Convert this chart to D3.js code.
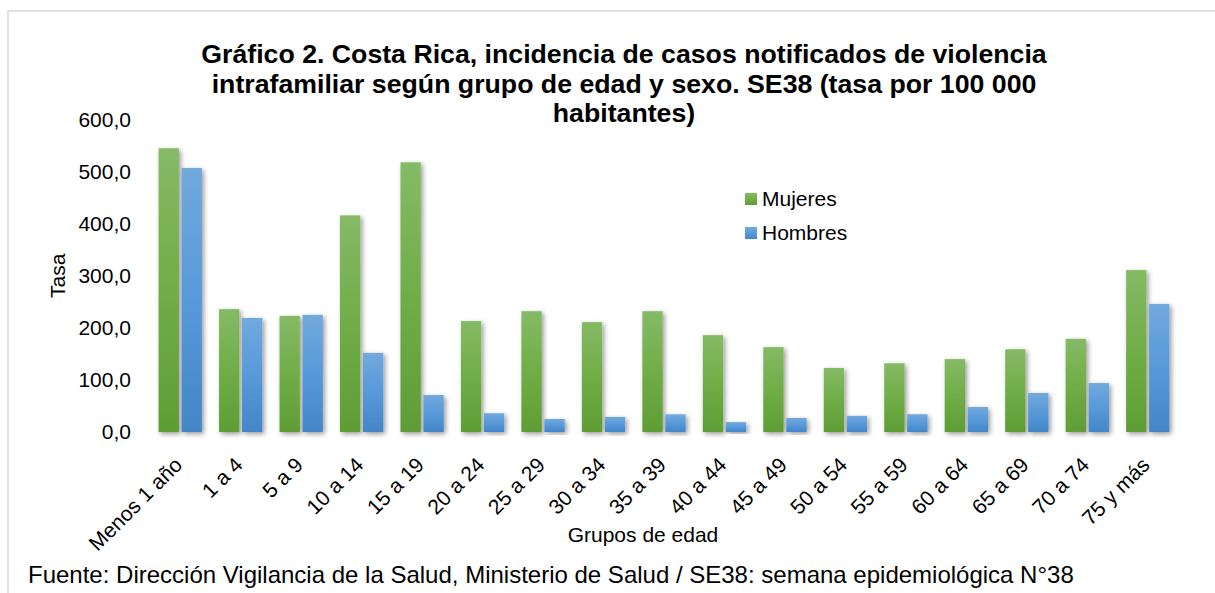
<!DOCTYPE html>
<html>
<head>
<meta charset="utf-8">
<script src="https://cdn.jsdelivr.net/npm/d3@7"></script>
<style>
  html, body { margin: 0; padding: 0; background: #fff; }
  svg { display: block; font-family: "Liberation Sans", Arial, sans-serif; }
</style>
</head>
<body>
<svg id="chart" width="1215" height="593"></svg>
<script>
const categories = ["Menos 1 año","1 a 4","5 a 9","10 a 14","15 a 19","20 a 24","25 a 29","30 a 34","35 a 39","40 a 44","45 a 49","50 a 54","55 a 59","60 a 64","65 a 69","70 a 74","75 y más"];
const mujeres = [545, 236, 223, 416, 518, 213, 232, 211, 232, 186, 163, 123, 132, 140, 159, 179, 311];
const hombres = [507, 219, 225, 152, 71, 36, 25, 29, 34, 19, 27, 31, 34, 48, 75, 94, 246];
const seriesNames = ["Mujeres", "Hombres"];
const yTicks = [0, 100, 200, 300, 400, 500, 600];
const titleLines = ["Gráfico 2. Costa Rica, incidencia de casos notificados de violencia", "intrafamiliar según grupo de edad y sexo. SE38 (tasa por 100 000", "habitantes)"];
const yLabel = "Tasa";
const xLabel = "Grupos de edad";
const footer = "Fuente: Dirección Vigilancia de la Salud, Ministerio de Salud / SE38: semana epidemiológica N°38";

const svg = d3.select("#chart");
const plot = { left: 150, right: 1178, top: 119.6, bottom: 432 };

const loc = d3.formatLocale({ decimal: ",", thousands: " ", grouping: [3], currency: ["", ""] });
const fmt = loc.format(".1f");

// defs: gradients and shadow
const defs = svg.append("defs");
const grads = {
  Mujeres: ["#86ba66", "#70ad47", "#5f9d35"],
  Hombres: ["#72a9dd", "#5899da", "#4386c7"]
};
Object.entries(grads).forEach(([k, c]) => {
  const g = defs.append("linearGradient").attr("id", "g-" + k).attr("x1", 0).attr("y1", 0).attr("x2", 0).attr("y2", 1);
  g.append("stop").attr("offset", "0%").attr("stop-color", c[0]);
  g.append("stop").attr("offset", "50%").attr("stop-color", c[1]);
  g.append("stop").attr("offset", "100%").attr("stop-color", c[2]);
});
const f = defs.append("filter").attr("id", "shadow").attr("x", "-30%").attr("y", "-10%").attr("width", "160%").attr("height", "130%");
f.append("feDropShadow").attr("dx", 2).attr("dy", 2).attr("stdDeviation", 2.4).attr("flood-color", "#000").attr("flood-opacity", 0.4);

// border
svg.append("rect").attr("x", 8).attr("y", 11).attr("width", 1400).attr("height", 800)
  .attr("fill", "none").attr("stroke", "#d9d9d9").attr("stroke-width", 1.5);

// scales
const x0 = d3.scaleBand().domain(categories).range([plot.left, plot.right]).paddingInner(0.284).paddingOuter(0.142);
const x1 = d3.scaleBand().domain(seriesNames).range([0, x0.bandwidth()]).paddingInner(0.117);
const y = d3.scaleLinear().domain([0, 600]).range([plot.bottom, plot.top]);

// title
const title = svg.append("text").attr("text-anchor", "middle").attr("font-weight", "bold").attr("font-size", 26.7).attr("fill", "#000");
titleLines.forEach((t, i) => {
  title.append("tspan").attr("x", 624).attr("y", 63 + i * 29.5).text(t);
});

// baseline axis line
svg.append("line").attr("x1", plot.left).attr("x2", plot.right).attr("y1", plot.bottom + 1).attr("y2", plot.bottom + 1)
  .attr("stroke", "#d4d4d4").attr("stroke-width", 3).attr("filter", "url(#shadow)");

// bars
const data = categories.map((c, i) => ({ cat: c, values: [{ s: "Mujeres", v: mujeres[i] }, { s: "Hombres", v: hombres[i] }] }));
const groups = svg.append("g").selectAll("g").data(data).join("g").attr("transform", d => `translate(${x0(d.cat)},0)`);
groups.selectAll("rect").data(d => d.values).join("rect")
  .attr("x", d => x1(d.s)).attr("width", x1.bandwidth())
  .attr("y", d => y(d.v)).attr("height", d => y(0) - y(d.v))
  .attr("fill", d => `url(#g-${d.s})`).attr("filter", "url(#shadow)");

// y axis
const yAxis = svg.append("g").attr("transform", `translate(${plot.left},0)`)
  .call(d3.axisLeft(y).tickValues(yTicks).tickFormat(fmt).tickSize(0).tickPadding(19));
yAxis.select(".domain").remove();
yAxis.selectAll("text").attr("font-size", 21).attr("fill", "#000").attr("font-family", "Liberation Sans, Arial, sans-serif");

// x axis
const xAxis = svg.append("g").attr("transform", `translate(0,${plot.bottom})`)
  .call(d3.axisBottom(x0).tickSize(0).tickPadding(0));
xAxis.select(".domain").remove();
xAxis.selectAll("text")
  .attr("font-size", 21).attr("fill", "#000").attr("font-family", "Liberation Sans, Arial, sans-serif")
  .attr("text-anchor", "end").attr("dy", "0.35em")
  .attr("transform", "translate(-2,29) rotate(-45)")
  .attr("y", 0).attr("x", 0);

// axis titles
svg.append("text").attr("transform", `translate(65,${(plot.top + plot.bottom) / 2}) rotate(-90)`)
  .attr("text-anchor", "middle").attr("font-size", 21).attr("fill", "#000").text(yLabel);
svg.append("text").attr("x", 643).attr("y", 542).attr("text-anchor", "middle").attr("font-size", 21).attr("fill", "#000").text(xLabel);

// legend
const legend = svg.append("g");
seriesNames.forEach((s, i) => {
  const gy = 193 + i * 34;
  legend.append("rect").attr("x", 745).attr("y", gy).attr("width", 12).attr("height", 12).attr("fill", `url(#g-${s})`);
  legend.append("text").attr("x", 762).attr("y", gy + 6).attr("dy", "0.35em").attr("font-size", 21).attr("fill", "#000").text(s);
});

// footer
svg.append("text").attr("x", 28).attr("y", 583).attr("font-size", 24).attr("fill", "#000").text(footer);
</script>
</body>
</html>
